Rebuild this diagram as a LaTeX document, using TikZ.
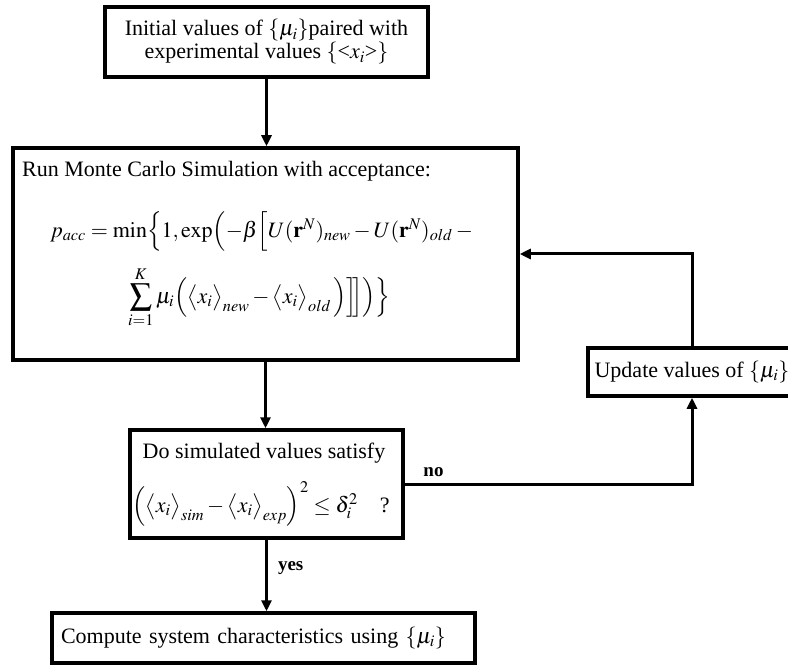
\documentclass[tikz,border=0pt]{standalone}
\usepackage{mathptmx}
\usepackage{fontspec}
\setmainfont{Liberation Serif}
\usetikzlibrary{arrows.meta}

\tikzset{
  box/.style={draw, rectangle, line width=3.5pt, inner sep=0pt},
  flow/.style={line width=3pt, -{Triangle[length=11pt, width=10pt]}},
  answer/.style={font=\bfseries\fontsize{19}{21}\selectfont, inner sep=0pt},
  txt/.style={inner sep=0pt}
}

\begin{document}
\begin{tikzpicture}[x=1pt, y=-1pt, font=\fontsize{22}{24}\selectfont]

  \useasboundingbox (0,0) rectangle (788,666);

  % Starting values
  \node[box, minimum width=323pt, minimum height=70pt, align=center] (init) at (266.5,42)
    {Initial values of $\{\mu_i\}$paired with\\[-1pt]experimental values $\{$<$x_i$>$\}$};

  % Monte Carlo step
  \node[box, minimum width=505pt, minimum height=212pt] (sim) at (265.5,254) {};
  \node[txt, anchor=base west] (simhead) at (22,177) {Run Monte Carlo Simulation with acceptance:};
  \node[txt, anchor=base west] (accone) at (50,237)
    {$p_{acc} = \min\Bigl\{1,\exp\Bigl(-\beta\Bigl[U(\mathbf{r}^{N})_{new} - U(\mathbf{r}^{N})_{old} -{}$};
  \node[txt, anchor=base west] (acctwo) at (128,303)
    {$\displaystyle\sum_{i=1}^{K}\mu_i\Bigl(\bigl\langle x_i\bigr\rangle_{new} - \bigl\langle x_i\bigr\rangle_{old}\,\Bigr)\Bigr]\!\!\Bigr]\Bigr)\Bigr\}$};

  % Convergence test
  \node[box, minimum width=273pt, minimum height=108pt] (check) at (266.5,484) {};
  \node[txt, anchor=base] (checkq) at (264,458) {Do simulated values satisfy};
  \node[txt, anchor=base] (checkf) at (261,512)
    {$\Bigl(\bigl\langle x_i\bigr\rangle_{sim} - \bigl\langle x_i\bigr\rangle_{exp}\Bigr)^{2} \le \delta_i^{2}$\quad ?};

  % Update of the multipliers
  \node[box, minimum width=208pt, minimum height=48pt] (update) at (692,372) {Update values of $\{\mu_i\}$};

  % Final step
  \node[box, text width=405pt, inner xsep=9pt, minimum height=50pt, align=left] (done) at (263.5,638)
    {Compute system characteristics using $\{\mu_i\}$};

  % Connectors
  \draw[flow] (init.south) -- (init.south |- sim.north);
  \draw[flow] (sim.south) -- (sim.south |- check.north);
  \draw[flow] (check.east) -| node[answer, pos=0.05, anchor=base, yshift=8pt] (nolbl) {no} (update.south);
  \draw[flow] (update.north) |- (sim.east);
  \draw[flow] (check.south) -- node[answer, pos=0.43, anchor=base west, xshift=10pt] (yeslbl) {yes} (check.south |- done.north);

\end{tikzpicture}
\end{document}
